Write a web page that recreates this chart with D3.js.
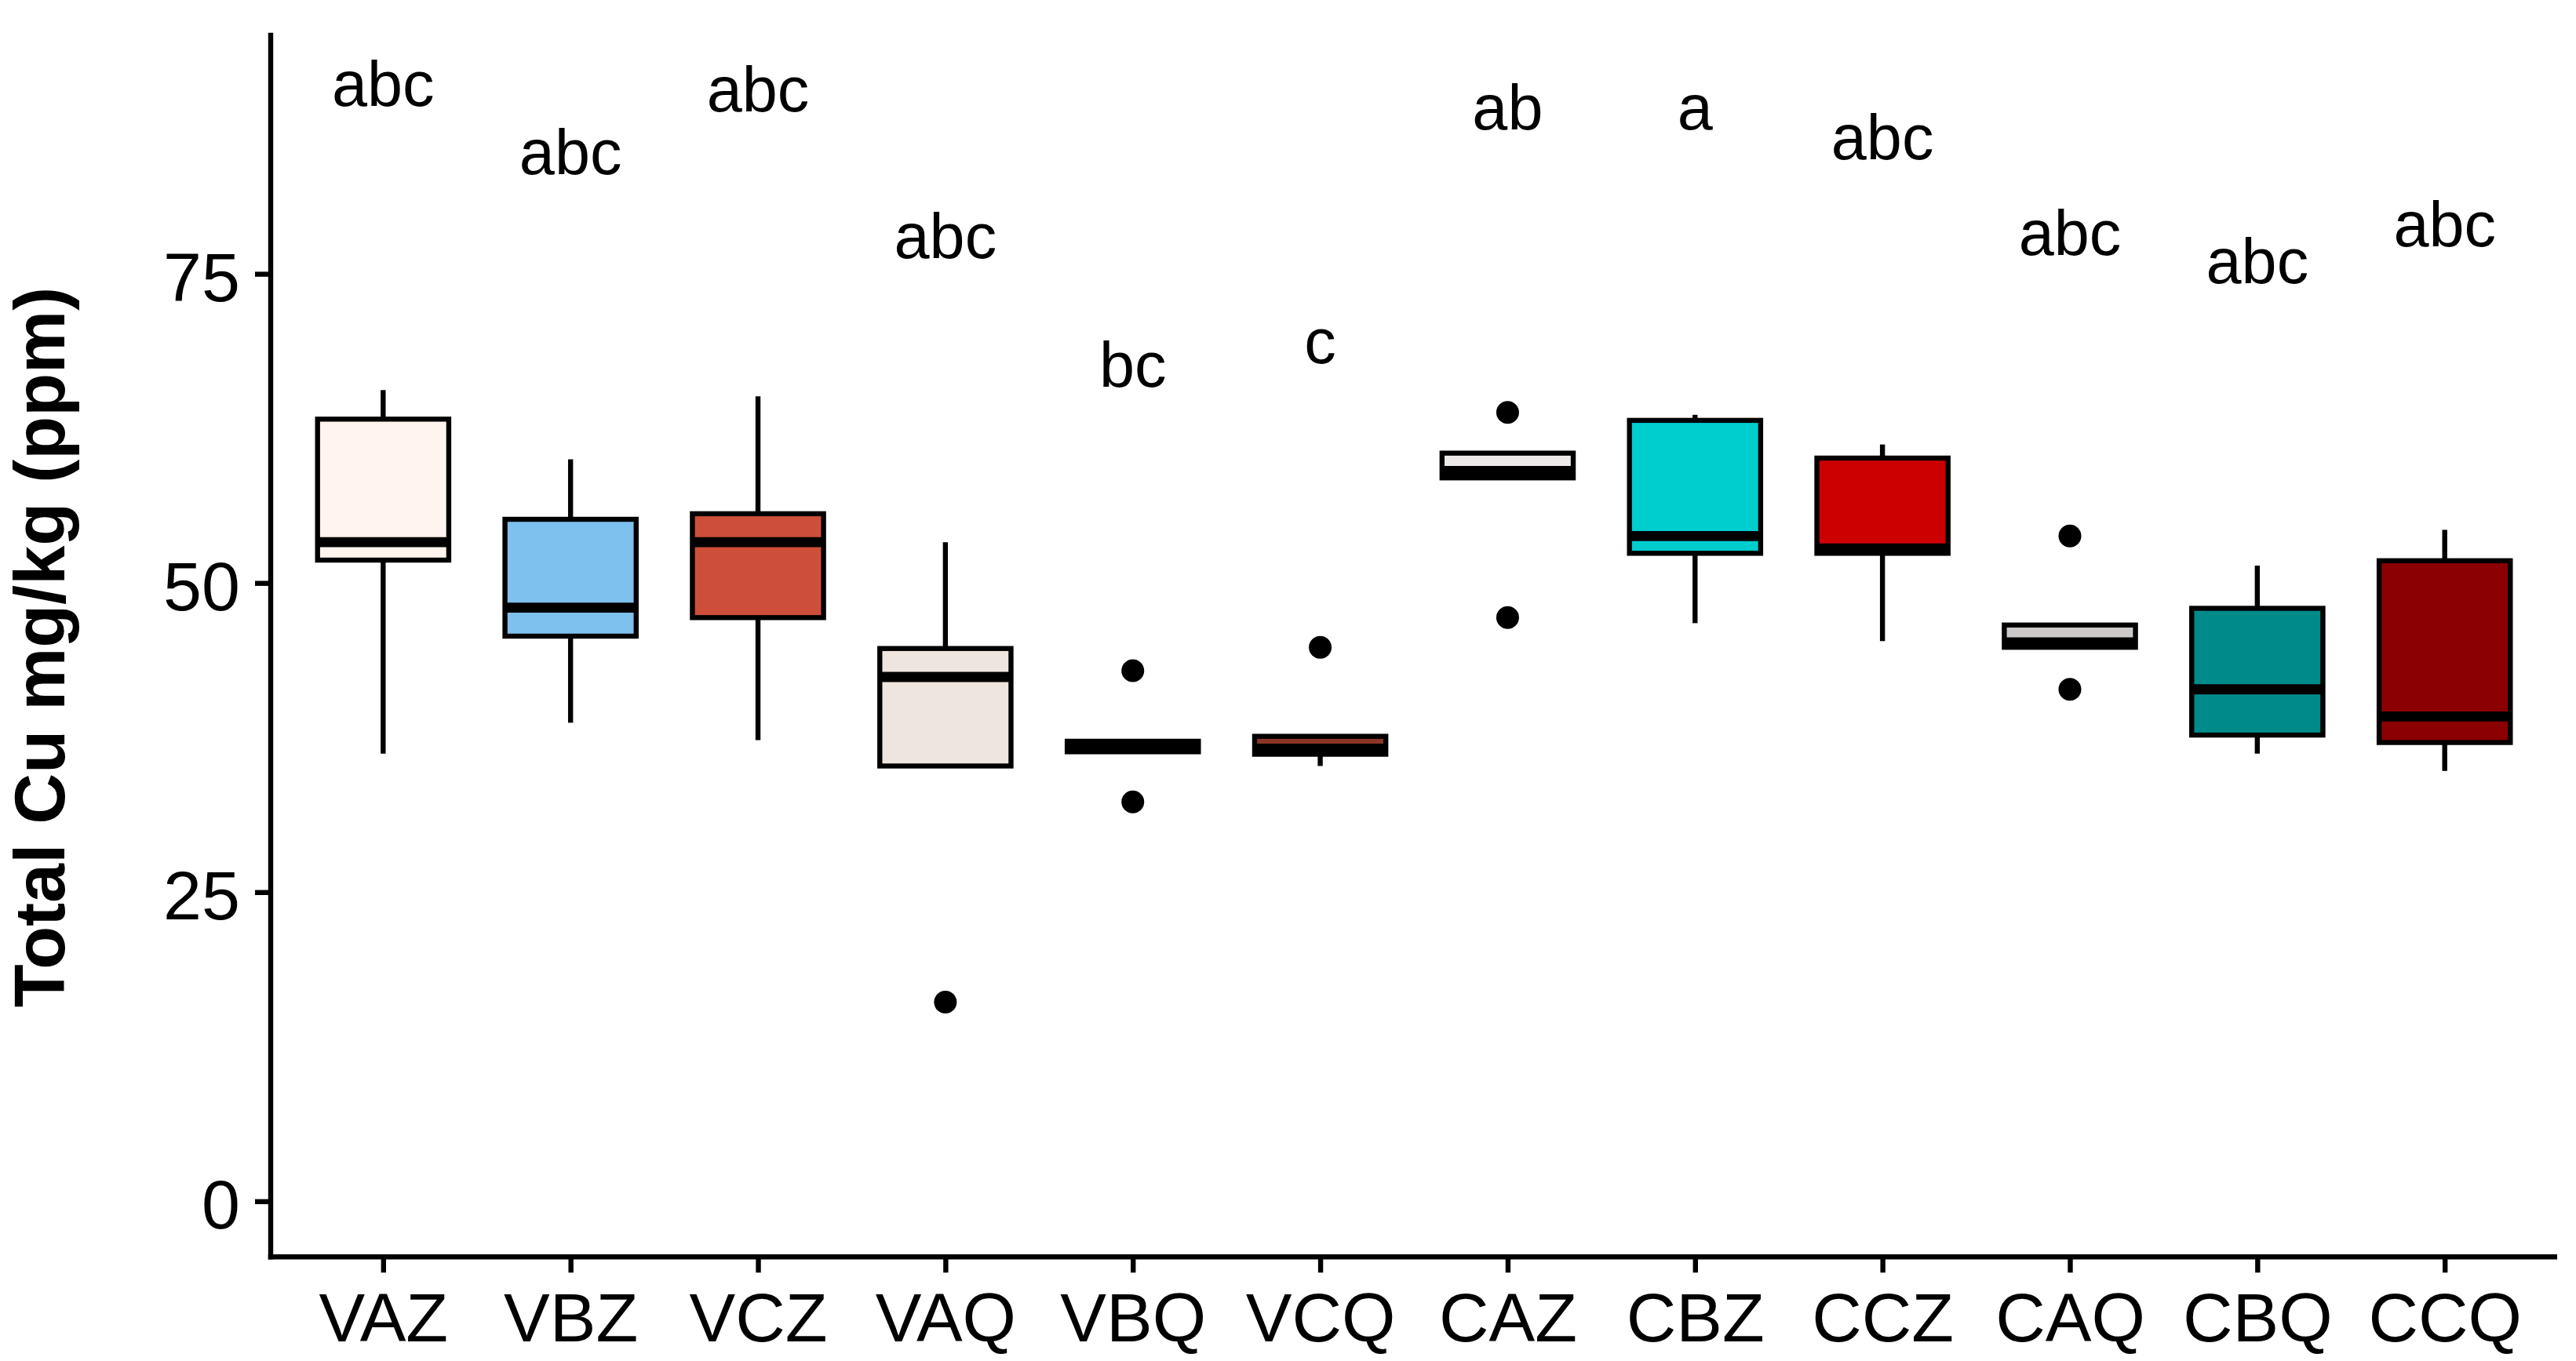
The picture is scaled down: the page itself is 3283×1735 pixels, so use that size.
<!DOCTYPE html>
<html>
<head>
<meta charset="utf-8">
<script src="https://cdn.jsdelivr.net/npm/d3@7"></script>
<style>
  body { margin: 0; background: #fff; }
  text { font-family: "Liberation Sans", Arial, sans-serif; fill: #000; }
</style>
</head>
<body>
<div id="chart"></div>
<script>
// data
var groups = ["VAZ", "VBZ", "VCZ", "VAQ", "VBQ", "VCQ", "CAZ", "CBZ", "CCZ", "CAQ", "CBQ", "CCQ"];
var whiskerLow  = [36.2, 38.7, 37.3, 35.2, 36.35, 35.2, 58.5, 46.75, 45.3, 44.8, 36.2, 34.8];
var q1          = [51.85, 45.7, 47.2, 35.2, 36.35, 36.15, 58.5, 52.4, 52.4, 44.8, 37.7, 37.1];
var median      = [53.3, 48.0, 53.3, 42.4, 36.8, 36.6, 59.05, 53.8, 52.8, 45.2, 41.4, 39.2];
var q3          = [63.25, 55.15, 55.6, 44.7, 37.2, 37.6, 60.5, 63.15, 60.1, 46.6, 47.95, 51.8];
var whiskerHigh = [65.6, 60.0, 65.1, 53.3, 37.2, 37.6, 60.5, 63.6, 61.2, 46.6, 51.4, 54.3];
var outliers    = [[], [], [], [16.1], [42.9, 32.3], [44.8], [63.8, 47.2], [], [], [53.8, 41.4], [], []];
var letters     = ["abc", "abc", "abc", "abc", "bc", "c", "ab", "a", "abc", "abc", "abc", "abc"];
var letterY     = [90.45, 84.9, 90.0, 78.1, 67.7, 69.6, 88.5, 88.5, 86.1, 78.4, 76.1, 79.1];
var fills       = ["#FFF5EE", "#7EC0EE", "#CD4F39", "#EEE5DE", "#4A708B", "#8B3626",
                   "#EEE9E9", "#00CDCD", "#CD0000", "#CDC9C9", "#008B8B", "#8B0000"];
var yTicks = [0, 25, 50, 75];

var svgWidth = 3283;
var svgHeight = 1735;

var margin = { top: 41.7, right: 24, bottom: 132.7, left: 345 };
var width = svgWidth - margin.left - margin.right;
var height = svgHeight - margin.top - margin.bottom;

var lw = 6.4;

var svg = d3.select("#chart")
  .append("svg")
  .attr("width", svgWidth)
  .attr("height", svgHeight);

var chartGroup = svg.append("g")
  .attr("transform", `translate(${margin.left}, ${margin.top})`);

var boxes = groups.map(function(g, i) {
  return {
    group: g, lo: whiskerLow[i], q1: q1[i], med: median[i], q3: q3[i], hi: whiskerHigh[i],
    out: outliers[i], letter: letters[i], ly: letterY[i], fill: fills[i]
  };
});

// scales: 0..90 with 5% expansion like ggplot
var yMax = 90;
var xScale = d3.scalePoint()
  .domain(groups)
  .range([0, width])
  .padding(0.6);

var yScale = d3.scaleLinear()
  .domain([-0.05 * yMax, yMax * 1.05])
  .range([height, 0]);

var boxW = xScale.step() * 0.7;

// axes
var leftAxis = d3.axisLeft(yScale)
  .tickValues(yTicks)
  .tickSize(20)
  .tickSizeOuter(0)
  .tickPadding(19);

var bottomAxis = d3.axisBottom(xScale)
  .tickSize(20)
  .tickSizeOuter(0)
  .tickPadding(25);

var yAxisG = chartGroup.append("g").call(leftAxis);
var xAxisG = chartGroup.append("g")
  .attr("transform", `translate(0, ${height})`)
  .call(bottomAxis);

[yAxisG, xAxisG].forEach(function(g) {
  g.select(".domain").attr("stroke", "#000").attr("stroke-width", lw);
  g.selectAll(".tick line").attr("stroke", "#000").attr("stroke-width", lw);
  g.selectAll(".tick text")
    .attr("fill", "#000")
    .style("font-family", "'Liberation Sans', Arial, sans-serif")
    .style("font-size", "88px");
});
yAxisG.selectAll(".tick text").attr("dy", "0.39em");
// extend the domain lines so they meet at the corner
yAxisG.select(".domain").attr("d", `M0,${height + lw / 2}V0`);
xAxisG.select(".domain").attr("d", `M${-lw / 2},0H${width}`);

// whiskers
var boxG = chartGroup.selectAll(".box")
  .data(boxes)
  .enter()
  .append("g")
  .attr("class", "box");

boxG.append("line")
  .attr("x1", function(d) { return xScale(d.group); })
  .attr("x2", function(d) { return xScale(d.group); })
  .attr("y1", function(d) { return yScale(d.q3); })
  .attr("y2", function(d) { return yScale(d.hi); })
  .attr("stroke", "#000")
  .attr("stroke-width", lw);

boxG.append("line")
  .attr("x1", function(d) { return xScale(d.group); })
  .attr("x2", function(d) { return xScale(d.group); })
  .attr("y1", function(d) { return yScale(d.q1); })
  .attr("y2", function(d) { return yScale(d.lo); })
  .attr("stroke", "#000")
  .attr("stroke-width", lw);

// boxes
boxG.append("rect")
  .attr("x", function(d) { return xScale(d.group) - boxW / 2; })
  .attr("y", function(d) { return yScale(d.q3); })
  .attr("width", boxW)
  .attr("height", function(d) { return yScale(d.q1) - yScale(d.q3); })
  .attr("fill", function(d) { return d.fill; })
  .attr("stroke", "#000")
  .attr("stroke-width", lw);

// medians
boxG.append("line")
  .attr("x1", function(d) { return xScale(d.group) - boxW / 2; })
  .attr("x2", function(d) { return xScale(d.group) + boxW / 2; })
  .attr("y1", function(d) { return yScale(d.med); })
  .attr("y2", function(d) { return yScale(d.med); })
  .attr("stroke", "#000")
  .attr("stroke-width", lw * 2);

// outliers
boxG.selectAll("circle")
  .data(function(d) { return d.out.map(function(v) { return { group: d.group, v: v }; }); })
  .enter()
  .append("circle")
  .attr("cx", function(d) { return xScale(d.group); })
  .attr("cy", function(d) { return yScale(d.v); })
  .attr("r", 14.5)
  .attr("fill", "#000");

// significance letters
chartGroup.selectAll(".letter")
  .data(boxes)
  .enter()
  .append("text")
  .attr("class", "letter")
  .attr("x", function(d) { return xScale(d.group); })
  .attr("y", function(d) { return yScale(d.ly); })
  .attr("dy", "0.36em")
  .attr("text-anchor", "middle")
  .style("font-size", "81px")
  .text(function(d) { return d.letter; });

// y axis title
svg.append("text")
  .attr("transform", `translate(82, ${margin.top + height / 2 + 3}) rotate(-90)`)
  .attr("text-anchor", "middle")
  .style("font-size", "90px")
  .style("font-weight", "bold")
  .text("Total Cu mg/kg (ppm)");
</script>
</body>
</html>
